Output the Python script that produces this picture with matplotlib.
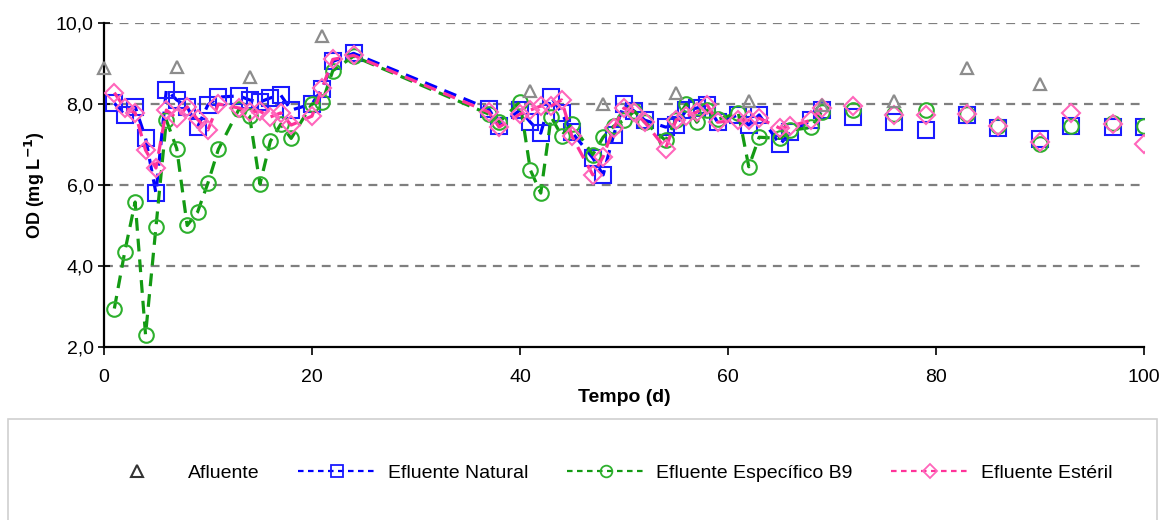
import numpy as np
import matplotlib
matplotlib.use("Agg")
import matplotlib.pyplot as plt
from matplotlib.patches import Rectangle
from matplotlib.lines import Line2D

plt.rcParams["font.family"] = ["Liberation Sans Narrow", "Liberation Sans", "DejaVu Sans"]

# Afluente (weekly samples)
afluente_days = [0, 7, 14, 21, 41, 48, 55, 62, 69, 76, 83, 90]
afluente_od = [8.88, 8.92, 8.67, 9.68, 8.33, 8.00, 8.27, 8.07, 7.98, 8.08, 8.90, 8.50]

# Effluents (nan = no sample, line broken)
nan = np.nan
efluente_days = [1, 2, 3, 4, 5, 6, 7, 8, 9, 10, 11, 13, 14, 15, 16, 17, 18, 20, 21, 22, 24,
                 37, 38, 40, 41, 42, 43, 44, 45, 47, 48, 49, 50, 51, 52, 54, 55, 56, 57, 58, 59,
                 61, 62, 63, 65, 66, 68, 69,
                 70, 72, 74, 76, 78, 79, 81, 83, 85, 86, 88, 90, 92, 93, 95, 97, 99, 100]
natural_od = [8.02, 7.73, 7.93, 7.16, 5.80, 8.35, 8.10, 7.93, 7.43, 7.98, 8.17, 8.20, 8.10, 8.05, 8.15, 8.22, 7.85, 8.00, 8.38, 9.05, 9.25,
              7.88, 7.45, 7.85, 7.55, 7.28, 8.17, 7.78, 7.30, 6.67, 6.25, 7.23, 8.00, 7.82, 7.60, 7.43, 7.48, 7.85, 7.90, 7.98, 7.55,
              7.73, 7.48, 7.73, 7.00, 7.30, 7.60, 7.85,
              nan, 7.68, nan, 7.56, nan, 7.35, nan, 7.72, nan, 7.40, nan, 7.13, nan, 7.45, nan, 7.43, nan, 7.43]
b9_od = [2.95, 4.35, 5.58, 2.30, 4.96, 7.60, 6.90, 5.00, 5.33, 6.05, 6.88, 7.88, 7.70, 6.02, 7.08, 7.50, 7.15, 8.00, 8.05, 8.82, 9.18,
         7.75, 7.55, 8.05, 6.37, 5.80, 7.68, 7.22, 7.50, 6.75, 7.18, 7.45, 7.60, 7.82, 7.55, 7.10, 7.60, 8.00, 7.55, 7.85, 7.62,
         7.78, 6.45, 7.18, 7.15, 7.35, 7.42, 7.80,
         nan, 7.85, nan, 7.75, nan, 7.85, nan, 7.75, nan, 7.45, nan, 7.00, nan, 7.45, nan, 7.52, nan, 7.45]
esteril_od = [8.28, 7.90, 7.78, 6.86, 6.42, 7.85, 7.65, 7.93, 7.62, 7.36, 8.00, 7.90, 7.80, 7.82, 7.68, 7.78, 7.48, 7.70, 8.40, 9.10, 9.20,
              7.80, 7.43, 7.75, 7.85, 7.95, 7.95, 8.10, 7.20, 6.25, 6.70, 7.40, 7.90, 7.80, 7.55, 6.90, 7.60, 7.70, 7.80, 7.98, 7.55,
              7.60, 7.60, 7.65, 7.40, 7.45, 7.60, 7.90,
              nan, 7.95, nan, 7.72, nan, 7.72, nan, 7.75, nan, 7.45, nan, 7.05, nan, 7.78, nan, 7.50, nan, 7.00]

y_ticks = [2, 4, 6, 8, 10]
x_ticks = [0, 20, 40, 60, 80, 100]

fig = plt.figure(figsize=(11.64, 5.2), dpi=100, facecolor="white")
ax = fig.add_axes([0.0893, 0.3327, 0.8935, 0.6231])

dash = (4, 2.5)
series = [
    (natural_od, "Efluente Natural", "#0000FF", "#1A1AFF", "s", 11.5),
    (b9_od, "Efluente Específico B9", "#139A13", "#2DB02D", "o", 10.5),
    (esteril_od, "Efluente Estéril", "#FF3399", "#FF66BB", "D", 9),
]

handles = [Line2D([], [], ls="none", marker="^", ms=8, mfc="none", mec="#333333", mew=1.5, label="Afluente")]
for vals, label, lc, mc, mk, ms in series:
    ax.plot(efluente_days, vals, color=lc, lw=2.3, dashes=dash, marker=mk, ms=ms,
            mfc="none", mec=mc, mew=1.5, zorder=3)
    handles.append(Line2D([], [], color=lc, lw=1.6, dashes=(2.5, 2), marker=mk, ms=ms * 0.8,
                          mfc="none", mec=mc, mew=1.3, label=label))

ax.plot(afluente_days, afluente_od, ls="none", marker="^", ms=9, mfc="none",
        mec="#8C8C8C", mew=1.6, zorder=4, clip_on=False)

ax.set_xlim(0, 100)
ax.set_ylim(2, 10)
ax.set_xticks(x_ticks)
ax.set_yticks(y_ticks)
ax.set_yticklabels([f"{v:.1f}".replace(".", ",") for v in y_ticks])
ax.tick_params(axis="both", labelsize=14, width=1.2, color="black")
ax.tick_params(axis="y", direction="inout", length=8)
ax.tick_params(axis="x", direction="out", length=6, pad=10)

for y in [4, 6, 8, 10]:
    ax.axhline(y, color="#7F7F7F", lw=1.6, dashes=(4, 3), zorder=1)

for s in ["top", "right"]:
    ax.spines[s].set_visible(False)
for s in ["left", "bottom"]:
    ax.spines[s].set_linewidth(1.6)

ax.set_xlabel("Tempo (d)", fontsize=14, fontweight="bold", labelpad=2)
ax.set_ylabel("OD (mg L$^{\\mathbf{-1}}$)", fontsize=13, fontweight="bold", labelpad=6)

fig.patches.append(Rectangle((0.007, -0.01), 0.987, 0.205, transform=fig.transFigure,
                             fill=False, edgecolor="#D0D0D0", lw=1.2))
fig.legend(handles=handles, loc="center", bbox_to_anchor=(0.52, 0.09), ncol=4,
           frameon=False, fontsize=14, handlelength=4.0, handletextpad=0.6,
           columnspacing=2.0)

fig.savefig("out.png", dpi=100, facecolor="white")
